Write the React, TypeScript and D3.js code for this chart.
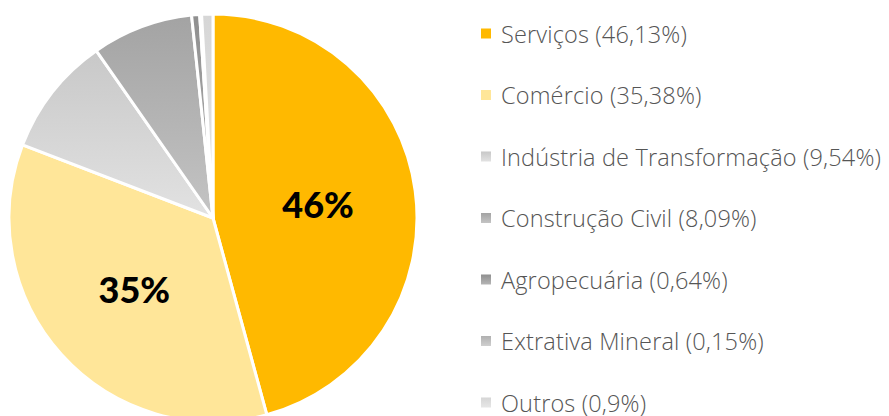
import React from "react";
import * as d3 from "d3";

const categories = [
  "Serviços",
  "Comércio",
  "Indústria de Transformação",
  "Construção Civil",
  "Agropecuária",
  "Extrativa Mineral",
  "Outros",
];
const values = [46.13, 35.38, 9.54, 8.09, 0.64, 0.15, 0.9];
const valueLabels = ["46,13%", "35,38%", "9,54%", "8,09%", "0,64%", "0,15%", "0,9%"];
const colorTop = ["#FFB900", "#FFE699", "#C8C8C8", "#A3A3A3", "#8F8F8F", "#B0B0B0", "#D6D6D6"];
const colorBottom = ["#FFB900", "#FFE699", "#E2E2E2", "#C4C4C4", "#B5B5B5", "#CFCFCF", "#E6E6E6"];
const sliceLabels = ["46%", "35%"];

const W = 889;
const H = 416;

export default function App() {
  const cx = 213;
  const cy = 218;
  const r = 204;
  const pie = d3.pie<number>().sort(null).value((d) => d)(values);
  const arc = d3.arc<d3.PieArcDatum<number>>().innerRadius(0).outerRadius(r);
  const labelArc = d3.arc<d3.PieArcDatum<number>>().innerRadius(r * 0.52).outerRadius(r * 0.52);

  const legendY = d3.scaleLinear().domain([0, categories.length - 1]).range([33.5, 402.5]);

  return (
    <svg
      width={W}
      height={H}
      style={{ position: "absolute", left: 0, top: 0, background: "#fff" }}
    >
      <defs>
        {categories.map((c, i) => (
          <linearGradient key={c} id={`g${i}`} x1="0" y1="0" x2="0" y2="1">
            <stop offset="0" stopColor={colorTop[i]} />
            <stop offset="1" stopColor={colorBottom[i]} />
          </linearGradient>
        ))}
      </defs>
      <g transform={`translate(${cx},${cy})`}>
        {pie.map((d, i) => (
          <path
            key={i}
            d={arc(d) || ""}
            fill={`url(#g${i})`}
            stroke="#fff"
            strokeWidth={3}
            strokeLinejoin="round"
          />
        ))}
        {sliceLabels.map((t, i) => {
          const [x, y] = labelArc.centroid(pie[i]);
          return (
            <text
              key={t}
              x={x}
              y={y}
              textAnchor="middle"
              dominantBaseline="central"
              fontFamily="Lato"
              fontWeight={900}
              fontSize={36}
              fill="#000"
            >
              {t}
            </text>
          );
        })}
      </g>
      {categories.map((c, i) => (
        <g key={c} transform={`translate(0,${legendY(i)})`}>
          <rect x={481} y={-5} width={10} height={10} fill={`url(#g${i})`} />
          <text
            x={501}
            y={0}
            dominantBaseline="central"
            fontFamily="Open Sans"
            fontWeight={300}
            fontSize={23.5}
            letterSpacing={0.15}
            fill="#555"
          >
            {`${c} (${valueLabels[i]})`}
          </text>
        </g>
      ))}
    </svg>
  );
}
